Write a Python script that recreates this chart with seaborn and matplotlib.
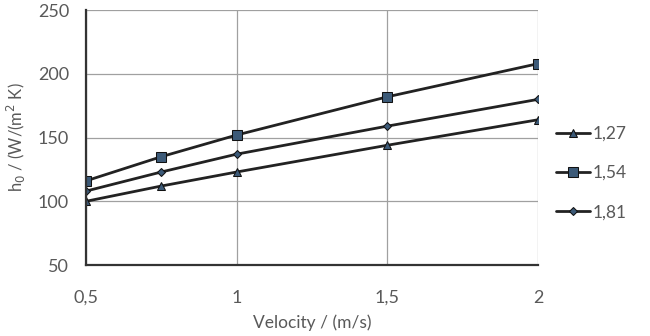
import matplotlib
matplotlib.use("Agg")
import matplotlib.pyplot as plt
import seaborn as sns
import pandas as pd
from matplotlib.ticker import MultipleLocator, FuncFormatter

# ----- DATA -----
velocity = [0.5, 0.75, 1.0, 1.5, 2.0]
h_127 = [100, 112, 123, 144, 164]
h_154 = [116, 135, 152, 182, 208]
h_181 = [108, 123, 137, 159, 180]
series_labels = ["1,27", "1,54", "1,81"]

df = pd.DataFrame({
    "v": velocity * 3,
    "h": h_127 + h_154 + h_181,
    "s": [series_labels[0]] * 5 + [series_labels[1]] * 5 + [series_labels[2]] * 5,
})

sns.set_style("white")
plt.rcParams["font.family"] = ["Lato", "DejaVu Sans"]

fig = plt.figure(figsize=(6.5, 3.36), dpi=100)
ax = fig.add_axes([0.132, 0.211, 0.696, 0.759])

sns.lineplot(data=df, x="v", y="h", hue="s", style="s",
             markers={"1,27": "^", "1,54": "s", "1,81": "D"},
             dashes=False, palette=["#222222"] * 3, linewidth=2.0,
             ax=ax, legend=False)
for line, ms in zip(ax.lines, [6, 7, 4.5]):
    line.set_markersize(ms)
    line.set_markerfacecolor("#3c5a78")
    line.set_markeredgecolor("#111111")

ax.set_xlim(0.5, 2)
ax.set_ylim(50, 250)
ax.xaxis.set_major_locator(MultipleLocator(0.5))
ax.xaxis.set_minor_locator(MultipleLocator(0.1))
ax.yaxis.set_major_locator(MultipleLocator(50))
fmt = FuncFormatter(lambda v, p: f"{v:g}".replace(".", ","))
ax.xaxis.set_major_formatter(fmt)
ax.grid(True, which="major", color="#a0a0a0", linewidth=0.9)
for s in ["top", "right"]:
    ax.spines[s].set_visible(False)
for s in ["left", "bottom"]:
    ax.spines[s].set_color("#333333")
    ax.spines[s].set_linewidth(1.6)
ax.tick_params(axis="both", which="major", length=0, labelsize=13, labelcolor="#595959")
ax.tick_params(axis="x", which="major", pad=18)
ax.tick_params(axis="y", which="major", pad=12)
ax.tick_params(axis="x", which="minor", direction="in", length=3, color="#999999")

ax.set_xlabel("Velocity / (m/s)", fontsize=12.5, color="#595959", labelpad=6)
ax.set_ylabel("h$_0$ / (W/(m$^2$ K)", fontsize=12, color="#595959", labelpad=7)

# legend outside on the right
handles = ax.lines[:3]
leg = fig.legend(handles, series_labels, loc="center left", bbox_to_anchor=(0.855, 0.485),
                 frameon=False, fontsize=12.5, handlelength=2.0, labelspacing=1.35,
                 handletextpad=0.1, borderaxespad=0, borderpad=0)
for t in leg.get_texts():
    t.set_color("#595959")

fig.savefig("out.png", dpi=100)
